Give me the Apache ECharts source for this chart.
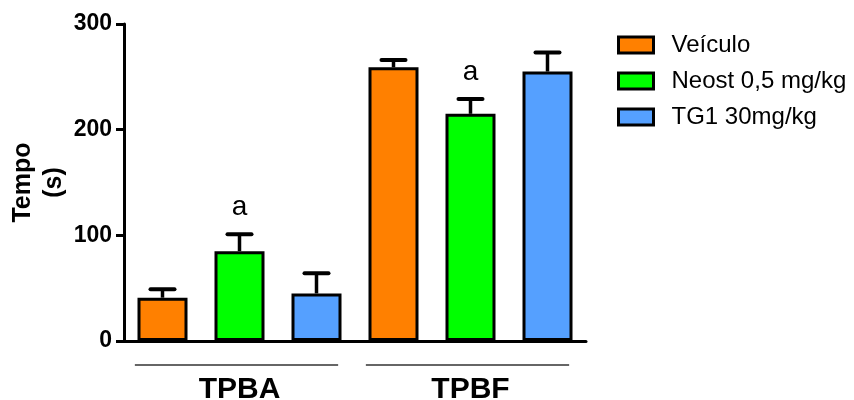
<!DOCTYPE html>
<html>
<head>
<meta charset="utf-8">
<script src="https://cdn.jsdelivr.net/npm/echarts@6/dist/echarts.min.js"></script>
<style>html,body{margin:0;padding:0;background:#fff}#c{width:854px;height:400px}</style>
</head>
<body>
<div id="c"></div>
<script>
var groups = ['TPBA', 'TPBF'];
var seriesNames = ['Veículo', 'Neost 0,5 mg/kg', 'TG1 30mg/kg'];
var veiculoMean = [41, 259];
var veiculoSem = [8, 7];
var neostMean = [85, 215];
var neostSem = [16, 14];
var tg1Mean = [45, 255];
var tg1Sem = [19, 18];
var neostSig = ['a', 'a'];
var yTicks = [0, 100, 200, 300];

var colors = ['#FF8000', '#00FF00', '#55A0FF'];
var FONT = "'Liberation Sans', Arial, sans-serif";

var means = [veiculoMean, neostMean, tg1Mean];
var sems = [veiculoSem, neostSem, tg1Sem];
var sigs = [['', ''], neostSig, ['', '']];

// 6 slots: group x series
var cats = [];
groups.forEach(function (g) { seriesNames.forEach(function (s) { cats.push(g + ' ' + s); }); });

var barSeries = seriesNames.map(function (name, si) {
  var data = cats.map(function () { return '-'; });
  groups.forEach(function (g, gi) { data[gi * 3 + si] = means[si][gi]; });
  return {
    name: name, type: 'bar', data: data, barWidth: 50, barGap: '-100%',
    itemStyle: { color: colors[si], borderColor: '#000', borderWidth: 3 },
    z: 2
  };
});

var errData = [];
groups.forEach(function (g, gi) {
  seriesNames.forEach(function (s, si) {
    errData.push([gi * 3 + si, means[si][gi], sems[si][gi], sigs[si][gi]]);
  });
});

var errSeries = {
  type: 'custom', name: 'err', data: errData, z: 3, silent: true,
  renderItem: function (params, api) {
    var idx = api.value(0), m = api.value(1), e = api.value(2);
    var sig = errData[params.dataIndex][3];
    var p0 = api.coord([idx, m]);
    var p1 = api.coord([idx, m + e]);
    var children = [
      { type: 'line', shape: { x1: p0[0], y1: p0[1], x2: p1[0], y2: p1[1] }, style: { stroke: '#000', lineWidth: 3.5 } },
      { type: 'line', shape: { x1: p1[0] - 12, y1: p1[1], x2: p1[0] + 12, y2: p1[1] }, style: { stroke: '#000', lineWidth: 4, lineCap: 'round' } }
    ];
    if (sig) {
      children.push({ type: 'text', x: p1[0], y: p1[1] - 13, style: { text: sig, fill: '#000', font: '28px ' + FONT, align: 'center', verticalAlign: 'bottom' } });
    }
    return { type: 'group', children: children };
  }
};

var groupLineSeries = {
  type: 'custom', name: 'grp', xAxisIndex: 1, yAxisIndex: 0, silent: true, clip: false,
  data: groups.map(function (g, gi) { return [gi, 0]; }),
  renderItem: function (params, api) {
    var c = api.coord([api.value(0), 0]);
    var w = api.size([1, 0])[0];
    var half = w * 0.44;
    return { type: 'line', shape: { x1: c[0] - half - 3, y1: c[1] + 24, x2: c[0] + half - 3, y2: c[1] + 24 }, style: { stroke: '#333', lineWidth: 1.5 } };
  }
};

var chart = echarts.init(document.getElementById('c'), null, { renderer: 'canvas' });
chart.setOption({
  animation: false,
  textStyle: { fontFamily: FONT },
  grid: { left: 124, right: 268, top: 24, bottom: 59, containLabel: false, outerBoundsMode: 'none' },
  legend: {
    orient: 'vertical', left: 617, top: 33, padding: 0, itemWidth: 35, itemHeight: 16, itemGap: 12,
    icon: 'rect', data: seriesNames,
    textStyle: { fontSize: 24, color: '#000', fontFamily: FONT, padding: [0, 0, 0, 13] },
    itemStyle: { borderColor: '#000', borderWidth: 3 }
  },
  xAxis: [{
    type: 'category', data: cats,
    axisLine: { lineStyle: { color: '#000', width: 3 } },
    axisTick: { alignWithLabel: true, length: 8, lineStyle: { color: '#000', width: 3 } },
    axisLabel: { show: false }, splitLine: { show: false }
  }, {
    type: 'category', data: groups, position: 'bottom',
    axisLine: { show: false }, axisTick: { show: false }, splitLine: { show: false },
    axisLabel: { fontSize: 30, fontWeight: 'bold', color: '#000', margin: 34, fontFamily: FONT }
  }],
  yAxis: {
    type: 'value', min: yTicks[0], max: yTicks[yTicks.length - 1], interval: 100,
    name: 'Tempo\n(s)', nameLocation: 'middle', nameGap: 54, nameMoveOverlap: false,
    nameTextStyle: { fontSize: 25, fontWeight: 'bold', color: '#000', lineHeight: 31, fontFamily: FONT },
    axisLine: { show: true, lineStyle: { color: '#000', width: 3 } },
    axisTick: { show: true, length: 8, lineStyle: { color: '#000', width: 3 } },
    axisLabel: { fontSize: 23, fontWeight: 'bold', color: '#000', margin: 12, fontFamily: FONT },
    splitLine: { show: false }
  },
  series: barSeries.concat([errSeries, groupLineSeries])
});
</script>
</body>
</html>
